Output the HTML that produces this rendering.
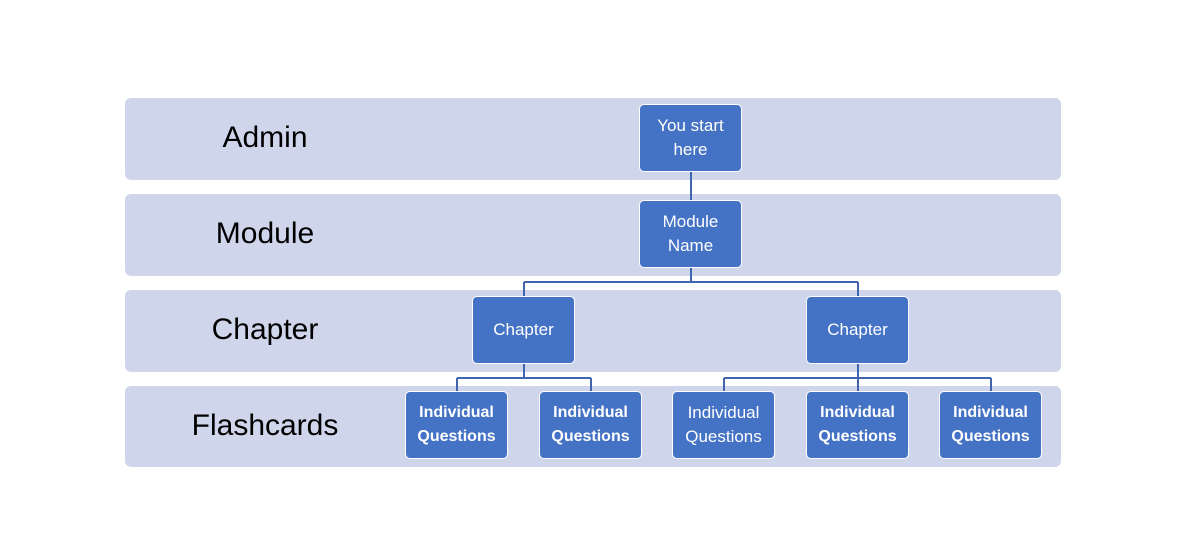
<!DOCTYPE html>
<html><head><meta charset="utf-8"><style>
body{margin:0;width:1182px;height:547px;background:#fff;position:relative;overflow:hidden;font-family:"Liberation Sans",sans-serif}
.band{position:absolute;left:125px;width:936px;height:82px;background:#CFD5EA;border-radius:6px}
.lbl{position:absolute;font-size:30px;color:#000;line-height:36px;transform:translateX(-50%);white-space:nowrap}
.box{position:absolute;width:101px;height:66px;background:#4472C4;border:1.5px solid #fff;border-radius:5px;box-sizing:content-box;color:#fff;font-size:17px;line-height:24px;display:flex;align-items:center;justify-content:center;text-align:center}
.b{font-weight:bold;font-size:16px}
</style></head><body>
<div class="band" style="top:98px"></div>
<div class="band" style="top:194px"></div>
<div class="band" style="top:290px"></div>
<div class="band" style="top:386px;height:81px"></div>
<div class="lbl" style="left:265px;top:120px">Admin</div>
<div class="lbl" style="left:265px;top:216px">Module</div>
<div class="lbl" style="left:265px;top:312px">Chapter</div>
<div class="lbl" style="left:265px;top:408px">Flashcards</div>
<svg width="1182" height="547" style="position:absolute;left:0;top:0" fill="none" stroke="#3F66AE" stroke-width="2">
<path d="M691 172V201M691 268V282M524 282H858M524 282V297M858 282V297M524 364V378M457 378H591M457 378V392M591 378V392M858 364V378M724 378H991M724 378V392M858 378V392M991 378V392"/>
</svg>
<div class="box" style="left:639px;top:104px">You start<br>here</div>
<div class="box" style="left:639px;top:200px">Module<br>Name</div>
<div class="box" style="left:472px;top:296px">Chapter</div>
<div class="box" style="left:806px;top:296px">Chapter</div>
<div class="box b" style="left:405px;top:391px">Individual<br>Questions</div>
<div class="box b" style="left:539px;top:391px">Individual<br>Questions</div>
<div class="box" style="left:672px;top:391px">Individual<br>Questions</div>
<div class="box b" style="left:806px;top:391px">Individual<br>Questions</div>
<div class="box b" style="left:939px;top:391px">Individual<br>Questions</div>
</body></html>
